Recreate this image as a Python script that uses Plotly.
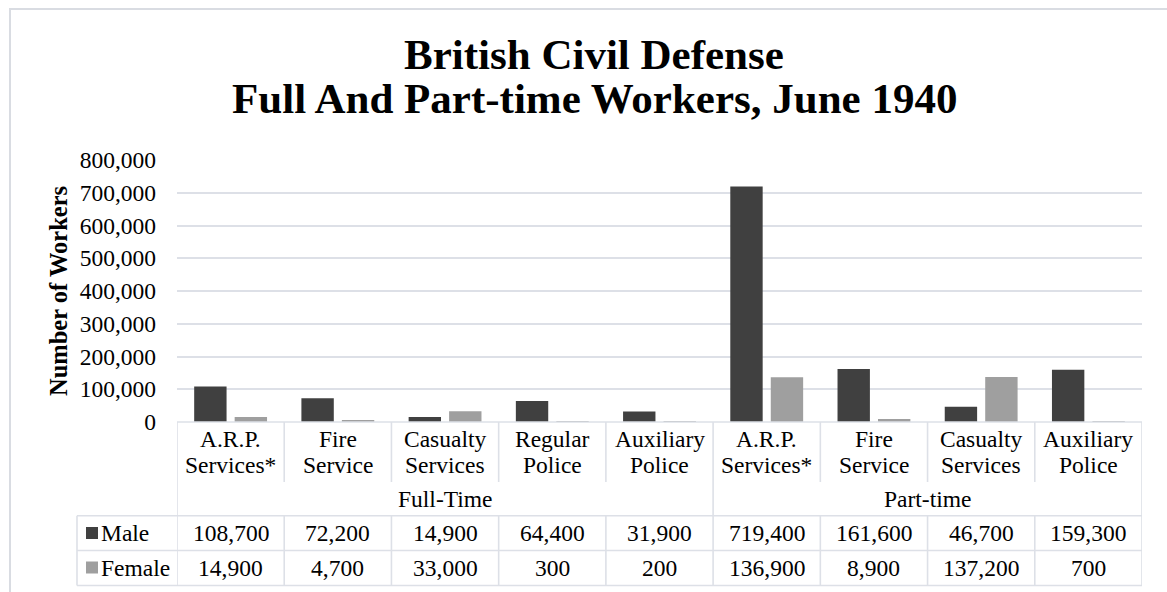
import plotly.graph_objects as go

# ---- data ----
groups = ["Full-Time", "Part-time"]
group_sizes = [5, 4]
categories = ["A.R.P. Services*", "Fire Service", "Casualty Services", "Regular Police",
              "Auxiliary Police", "A.R.P. Services*", "Fire Service", "Casualty Services",
              "Auxiliary Police"]
male = [108700, 72200, 14900, 64400, 31900, 719400, 161600, 46700, 159300]
female = [14900, 4700, 33000, 300, 200, 136900, 8900, 137200, 700]
series_names = ["Male", "Female"]
y_ticks = [0, 100000, 200000, 300000, 400000, 500000, 600000, 700000, 800000]

# ---- style / geometry ----
W, H = 1167, 592
L, R, T, B = 177, 1142, 160, 422
FONT = "Liberation Serif, Times New Roman, serif"
FS = 23.5
MALE_C = "#404040"
FEMALE_C = "#9f9f9f"
GRID = "#dde0e7"


def py(y):
    return (B - y) / (B - T)


def pxp(x):
    return (x - L) / (R - L)


xs = list(range(len(categories)))

fig = go.Figure()
fig.add_trace(go.Bar(x=xs, y=male, name=series_names[0], marker=dict(color=MALE_C, line=dict(width=0))))
fig.add_trace(go.Bar(x=xs, y=female, name=series_names[1], marker=dict(color=FEMALE_C, line=dict(width=0))))

shapes = []
ann = []


def hline(y, x0, x1, xref="paper", color=GRID, w=1.6):
    shapes.append(dict(type="line", xref=xref, yref="paper", x0=x0, x1=x1, y0=py(y), y1=py(y),
                       line=dict(color=color, width=w), layer="above"))


def vline(x, y0, y1, xref="x", color=GRID, w=1.6):
    shapes.append(dict(type="line", xref=xref, yref="paper", x0=x, x1=x, y0=py(y0), y1=py(y1),
                       line=dict(color=color, width=w), layer="above"))


# table geometry (pixels)
Y_CAT_BOT = 482
Y_MALE = 515.7
Y_FEM = 550.5
Y_BOT = 585.5
LEG_X = 77

n = len(categories)
hline(B, 0, 1)
hline(Y_MALE, pxp(LEG_X), 1)
hline(Y_FEM, pxp(LEG_X), 1)
hline(Y_BOT, pxp(LEG_X), 1)
vline(pxp(LEG_X), Y_MALE, Y_BOT, xref="paper")

# group boundaries
bounds = [0]
for s in group_sizes:
    bounds.append(bounds[-1] + s)
for k in range(n + 1):
    xk = k - 0.5
    if k in bounds:
        vline(xk, B, Y_BOT)
    else:
        vline(xk, B, Y_CAT_BOT)
        vline(xk, Y_MALE, Y_BOT)

# outer chart border (left & top visible)
shapes.append(dict(type="line", xref="paper", yref="paper", x0=pxp(10), x1=pxp(10), y0=py(9), y1=py(600),
                   line=dict(color="#d9dce2", width=2)))
shapes.append(dict(type="line", xref="paper", yref="paper", x0=pxp(9), x1=pxp(1200), y0=py(9), y1=py(9),
                   line=dict(color="#d9dce2", width=2)))

txt = dict(family=FONT, size=FS, color="#000000")

# category labels (two lines)
for i, c in enumerate(categories):
    first, rest = c.split(" ", 1)
    ann.append(dict(x=i, y=py(439), xref="x", yref="paper", text=first, showarrow=False,
                    font=txt, xanchor="center", yanchor="middle"))
    ann.append(dict(x=i, y=py(464.5), xref="x", yref="paper", text=rest, showarrow=False,
                    font=txt, xanchor="center", yanchor="middle"))

# group labels
for g, a, b in zip(groups, bounds[:-1], bounds[1:]):
    ann.append(dict(x=(a + b - 1) / 2, y=py(499), xref="x", yref="paper", text=g, showarrow=False,
                    font=txt, xanchor="center", yanchor="middle"))

# data rows
for vals, yy in ((male, 533), (female, 567.5)):
    for i, v in enumerate(vals):
        ann.append(dict(x=i, y=py(yy), xref="x", yref="paper", text=f"{v:,}", showarrow=False,
                        font=txt, xanchor="center", yanchor="middle"))

# legend keys
for name, col, yy in ((series_names[0], MALE_C, 533), (series_names[1], FEMALE_C, 567.5)):
    shapes.append(dict(type="rect", xref="paper", yref="paper", x0=pxp(86), x1=pxp(98),
                       y0=py(yy - 6), y1=py(yy + 6), fillcolor=col, line=dict(width=0)))
    ann.append(dict(x=pxp(99), y=py(yy), xref="paper", yref="paper", text=name, showarrow=False,
                    font=txt, xanchor="left", yanchor="middle"))

# y-axis title
ann.append(dict(x=pxp(58), y=py(291), xref="paper", yref="paper", text="<b>Number of Workers</b>",
                showarrow=False, textangle=-90, font=dict(family=FONT, size=24.5, color="#000000"),
                xanchor="center", yanchor="middle"))

# title
ann.append(dict(x=pxp(594), y=py(54), xref="paper", yref="paper", text="<b>British Civil Defense</b>",
                showarrow=False, font=dict(family=FONT, size=43, color="#000000"),
                xanchor="center", yanchor="middle"))
ann.append(dict(x=pxp(594), y=py(98.5), xref="paper", yref="paper",
                text="<b>Full And Part-time Workers, June 1940</b>",
                showarrow=False, font=dict(family=FONT, size=43, color="#000000"),
                xanchor="center", yanchor="middle"))

fig.update_layout(
    width=W, height=H,
    margin=dict(l=L, r=W - R, t=T, b=H - B, pad=0),
    paper_bgcolor="white", plot_bgcolor="white",
    barmode="group", bargap=0.245, bargroupgap=0.2,
    showlegend=False,
    shapes=shapes, annotations=ann,
    xaxis=dict(range=[-0.5, n - 0.5], showticklabels=False, showgrid=False, zeroline=False,
               showline=False, ticks="", fixedrange=True),
    yaxis=dict(range=[0, 800000], tickvals=y_ticks, tickformat=",", showgrid=True, gridcolor=GRID,
               gridwidth=1.6, zeroline=False, showline=False, ticks="", ticklabelstandoff=20,
               tickfont=dict(family=FONT, size=FS, color="#000000"), fixedrange=True),
)

fig.write_html("out.html", config={"displayModeBar": False})
